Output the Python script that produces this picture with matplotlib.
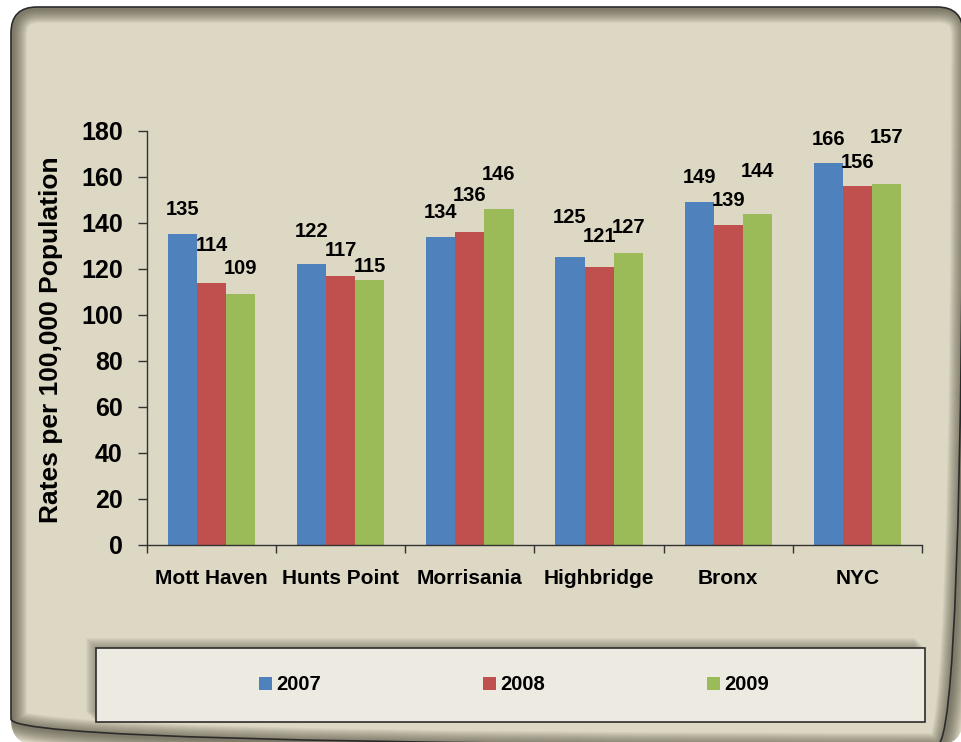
import numpy as np
import matplotlib
matplotlib.use("Agg")
import matplotlib.pyplot as plt
from matplotlib.patches import FancyBboxPatch, Rectangle

# data
places = ["Mott Haven", "Hunts Point", "Morrisania", "Highbridge", "Bronx", "NYC"]
years = ["2007", "2008", "2009"]
rates_2007 = [135, 122, 134, 125, 149, 166]
rates_2008 = [114, 117, 136, 121, 139, 156]
rates_2009 = [109, 115, 146, 127, 144, 157]

colors = ["#4F81BD", "#C0504D", "#9BBB59"]
# how far each value label sits above its bar (pixels), hand placed in the original
lift_2007 = [25, 33, 24, 40, 25, 24]
lift_2008 = [37, 25, 37, 30, 25, 24]
lift_2009 = [26, 14, 35, 25, 42, 46]

BG = "#DDD8C3"
LEG_BG = "#EDEBE1"
W, H = 961, 742
FONT = ["Liberation Sans", "DejaVu Sans"]

fig = plt.figure(figsize=(W / 100, H / 100), dpi=100)
fig.patch.set_facecolor("white")

# background layer in pixel coordinates
bg = fig.add_axes([0, 0, 1, 1], zorder=-10)
bg.set_xlim(0, W)
bg.set_ylim(H, 0)
bg.axis("off")

box = dict(boxstyle="round,pad=0,rounding_size=26")
frame = FancyBboxPatch((11, 7), 952, 738, facecolor=BG, edgecolor="none", **box)
bg.add_patch(frame)
# inner shadow along the frame edge (stronger top/left)
for w in range(2, 30, 2):
    s = FancyBboxPatch((13, 9), 952, 738, facecolor="none", edgecolor="#3a3628",
                       linewidth=w * 0.72, alpha=0.055, **box)
    bg.add_patch(s)
    s.set_clip_path(frame)
bg.add_patch(FancyBboxPatch((11, 7), 952, 738, facecolor="none",
                            edgecolor="#2b2b2b", linewidth=1.2, **box))

# legend box with soft shadow to the upper left
lx0, ly0, lx1, ly1 = 96, 648, 925, 722
for k in range(1, 11):
    bg.add_patch(Rectangle((lx0 - k, ly0 - k), lx1 - lx0, ly1 - ly0,
                           facecolor="#4a463a", edgecolor="none", alpha=0.05))
bg.add_patch(Rectangle((lx0, ly0), lx1 - lx0, ly1 - ly0, facecolor=LEG_BG,
                       edgecolor="#2b2b2b", linewidth=1.2))

# main chart
ax = fig.add_axes([147 / W, 1 - 545 / H, (922 - 147) / W, (545 - 131) / H])
ax.set_facecolor("none")

x = np.arange(len(places))
bw = 0.225
series = [rates_2007, rates_2008, rates_2009]
lifts = [lift_2007, lift_2008, lift_2009]
for j, (vals, lift) in enumerate(zip(series, lifts)):
    pos = x + (j - 1) * bw
    bars = ax.bar(pos, vals, width=bw, color=colors[j], label=years[j],
                  edgecolor="none", zorder=2)
    for b, v, dy in zip(bars, vals, lift):
        ax.annotate(str(v), (b.get_x() + b.get_width() / 2, v),
                    xytext=(0, dy), textcoords="offset pixels",
                    ha="center", va="center", fontsize=14.5, fontweight="bold",
                    family=FONT, color="black", zorder=3)

ax.set_xlim(-0.5, len(places) - 0.5)
ax.set_ylim(0, 180)
ax.set_yticks(range(0, 181, 20))
ax.tick_params(axis="y", direction="out", length=6.5, width=1, color="#333333",
               pad=11, labelsize=18)
for t in ax.get_yticklabels():
    t.set_fontweight("bold")
    t.set_family(FONT)

ax.set_xticks(x)
ax.set_xticklabels(places, fontsize=15, fontweight="bold", family=FONT)
ax.tick_params(axis="x", length=0, pad=17)
ax.set_xticks(np.arange(-0.5, len(places)), minor=True)
ax.tick_params(axis="x", which="minor", direction="out", length=6, width=1,
               color="#333333")

for side in ["top", "right"]:
    ax.spines[side].set_visible(False)
for side in ["left", "bottom"]:
    ax.spines[side].set_color("#333333")
    ax.spines[side].set_linewidth(1)

ax.set_ylabel("Rates per 100,000 Population", fontsize=19, fontweight="bold",
              family=FONT)
ax.yaxis.set_label_coords(-0.108, 0.495)

leg = fig.legend(loc="center", bbox_to_anchor=(514 / W, 1 - 685 / H), ncol=3,
                 frameon=False, prop={"family": FONT, "weight": "bold", "size": 14.5},
                 handlelength=0.65, handleheight=0.65, handletextpad=0.25,
                 columnspacing=8.0)

fig.savefig("out.png", dpi=100, facecolor=fig.get_facecolor())
